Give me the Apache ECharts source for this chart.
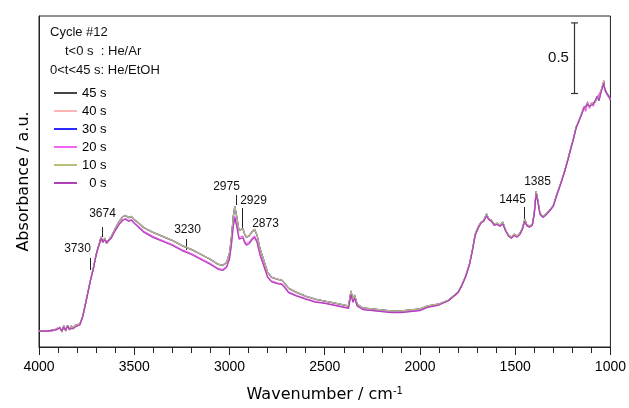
<!DOCTYPE html>
<html>
<head>
<meta charset="utf-8">
<script src="https://cdn.jsdelivr.net/npm/echarts@6/dist/echarts.min.js"></script>
<style>
  html, body { margin: 0; padding: 0; background: #fff; }
  #main { width: 629px; height: 408px; }
</style>
</head>
<body>
<div id="main"></div>
<script>
// wavenumber grid (cm-1)
var wavenumbers = [
  4000,3960,3930,3910,3900,3890,3880,3870,3860,3850,
  3840,3830,3820,3810,3800,3785,3770,3750,3730,3715,
  3700,3690,3680,3674,3665,3655,3645,3635,3620,3600,
  3580,3560,3545,3530,3515,3500,3480,3450,3400,3350,
  3300,3250,3200,3150,3100,3060,3035,3015,3000,2990,
  2980,2972,2962,2950,2940,2930,2920,2910,2895,2880,
  2868,2855,2840,2820,2800,2780,2750,2725,2710,2690,
  2650,2600,2550,2500,2450,2400,2375,2362,2352,2343,
  2330,2300,2250,2200,2150,2100,2050,2000,1960,1900,
  1850,1800,1780,1760,1740,1725,1710,1695,1680,1665,
  1650,1640,1625,1610,1595,1580,1565,1550,1535,1520,
  1505,1490,1475,1462,1450,1440,1425,1410,1400,1390,
  1380,1370,1355,1340,1320,1300,1280,1260,1240,1220,
  1205,1195,1180,1165,1150,1140,1130,1120,1110,1100,
  1090,1080,1070,1060,1050,1040,1035,1030,1020,1010,
  1000
];

// 45 s / 40 s
var absHigh = [
  0.113,0.113,0.116,0.127,0.113,0.141,0.106,0.148,0.113,0.155,
  0.120,0.148,0.127,0.155,0.141,0.162,0.218,0.345,0.472,0.556,
  0.655,0.704,0.746,0.782,0.739,0.768,0.732,0.754,0.782,0.838,
  0.887,0.923,0.930,0.915,0.923,0.901,0.880,0.845,0.810,0.782,
  0.754,0.718,0.690,0.655,0.620,0.585,0.577,0.599,0.662,0.768,
  0.923,0.993,0.923,0.824,0.817,0.838,0.796,0.775,0.789,0.817,
  0.831,0.789,0.697,0.613,0.528,0.493,0.479,0.472,0.451,0.415,
  0.387,0.359,0.338,0.324,0.310,0.296,0.289,0.394,0.331,0.366,
  0.303,0.275,0.268,0.261,0.254,0.254,0.261,0.268,0.289,0.303,
  0.331,0.387,0.437,0.500,0.585,0.683,0.796,0.845,0.880,0.894,
  0.937,0.908,0.894,0.866,0.873,0.859,0.880,0.824,0.789,0.775,
  0.796,0.782,0.803,0.838,0.901,0.866,0.852,0.866,0.944,1.099,
  1.028,0.944,0.923,0.937,0.965,1.000,1.085,1.162,1.246,1.345,
  1.423,1.472,1.556,1.606,1.655,1.697,1.676,1.732,1.697,1.725,
  1.711,1.739,1.768,1.754,1.810,1.852,1.887,1.824,1.803,1.775,
  1.754
];

// 30 s / 10 s
var absHighB = [
  0.116,0.110,0.120,0.123,0.118,0.136,0.110,0.152,0.118,0.150,
  0.124,0.152,0.130,0.150,0.146,0.165,0.220,0.347,0.474,0.558,
  0.657,0.706,0.750,0.778,0.742,0.772,0.736,0.758,0.785,0.840,
  0.889,0.925,0.933,0.918,0.925,0.903,0.882,0.847,0.812,0.784,
  0.756,0.720,0.692,0.657,0.622,0.587,0.579,0.601,0.665,0.772,
  0.928,0.998,0.926,0.826,0.820,0.842,0.799,0.778,0.792,0.820,
  0.834,0.792,0.700,0.616,0.531,0.496,0.482,0.474,0.453,0.417,
  0.389,0.361,0.340,0.326,0.312,0.298,0.291,0.398,0.334,0.369,
  0.305,0.277,0.270,0.263,0.256,0.256,0.263,0.270,0.291,0.305,
  0.333,0.389,0.440,0.503,0.588,0.686,0.800,0.850,0.884,0.898,
  0.945,0.912,0.898,0.870,0.878,0.862,0.886,0.828,0.793,0.779,
  0.800,0.786,0.808,0.843,0.908,0.870,0.856,0.870,0.950,1.105,
  1.032,0.948,0.926,0.940,0.968,1.004,1.088,1.165,1.249,1.348,
  1.425,1.468,1.560,1.600,1.660,1.690,1.685,1.725,1.705,1.720,
  1.718,1.732,1.775,1.748,1.805,1.860,1.880,1.830,1.798,1.780,
  1.758
];

// 20 s
var absMid = [
  0.113,0.115,0.113,0.130,0.116,0.138,0.110,0.144,0.116,0.150,
  0.124,0.145,0.130,0.150,0.145,0.160,0.216,0.342,0.470,0.554,
  0.652,0.702,0.744,0.776,0.742,0.764,0.736,0.752,0.774,0.826,
  0.871,0.903,0.910,0.895,0.903,0.881,0.858,0.819,0.782,0.754,
  0.726,0.690,0.662,0.627,0.592,0.557,0.549,0.571,0.630,0.728,
  0.867,0.929,0.867,0.776,0.769,0.786,0.748,0.731,0.745,0.773,
  0.787,0.749,0.661,0.581,0.500,0.469,0.455,0.448,0.427,0.391,
  0.367,0.343,0.322,0.312,0.298,0.284,0.277,0.378,0.319,0.350,
  0.293,0.267,0.260,0.253,0.246,0.246,0.253,0.260,0.283,0.299,
  0.330,0.386,0.436,0.499,0.584,0.682,0.793,0.843,0.878,0.892,
  0.934,0.906,0.892,0.864,0.870,0.857,0.876,0.822,0.787,0.772,
  0.793,0.780,0.800,0.835,0.895,0.863,0.850,0.864,0.941,1.092,
  1.024,0.942,0.920,0.935,0.963,0.998,1.082,1.160,1.244,1.342,
  1.421,1.470,1.553,1.604,1.652,1.705,1.670,1.740,1.690,1.730,
  1.705,1.745,1.760,1.760,1.815,1.858,1.880,1.820,1.810,1.770,
  1.752
];

// 0 s
var absLow = [
  0.113,0.113,0.120,0.122,0.118,0.134,0.113,0.141,0.120,0.148,
  0.127,0.141,0.134,0.148,0.148,0.158,0.215,0.340,0.468,0.552,
  0.650,0.700,0.742,0.770,0.745,0.760,0.740,0.750,0.772,0.823,
  0.867,0.898,0.905,0.890,0.898,0.876,0.852,0.813,0.775,0.747,
  0.719,0.683,0.655,0.620,0.585,0.550,0.542,0.564,0.622,0.718,
  0.853,0.913,0.853,0.764,0.757,0.773,0.736,0.720,0.734,0.762,
  0.776,0.739,0.652,0.573,0.493,0.463,0.449,0.442,0.421,0.385,
  0.362,0.339,0.318,0.309,0.295,0.281,0.274,0.372,0.316,0.345,
  0.291,0.265,0.258,0.251,0.244,0.244,0.251,0.258,0.281,0.297,
  0.328,0.384,0.435,0.498,0.583,0.680,0.790,0.840,0.876,0.890,
  0.930,0.903,0.890,0.862,0.868,0.855,0.872,0.820,0.785,0.770,
  0.790,0.778,0.798,0.832,0.890,0.860,0.848,0.862,0.938,1.085,
  1.020,0.940,0.918,0.932,0.962,0.996,1.080,1.158,1.243,1.340,
  1.420,1.468,1.550,1.602,1.650,1.690,1.680,1.720,1.705,1.715,
  1.720,1.730,1.775,1.745,1.800,1.845,1.870,1.830,1.795,1.780,
  1.750
];

var seriesNames = ['45 s', '40 s', '30 s', '20 s', '10 s', '0 s'];
var seriesValues = [absHigh, absHigh, absHighB, absMid, absHighB, absLow];
var seriesColors = ['#444444', '#ffb4b4', '#2b2bff', '#f064f0', '#bdbd7a', '#b040b8'];

// peak labels and the wavenumber each one points at
var peakLabels = ['3730', '3674', '3230', '2975', '2929', '2873', '1445', '1385'];
var peakWn = [3730, 3670, 3230, 2965, 2932, 2873, 1452, 1385];

var chart = echarts.init(document.getElementById('main'));

var series = seriesNames.map(function (name, k) {
	return {
		name: name,
		type: 'line',
		showSymbol: false,
		symbol: 'none',
		silent: true,
		lineStyle: { width: 1.2, color: seriesColors[k] },
		itemStyle: { color: seriesColors[k] },
		data: wavenumbers.map(function (w, i) { return [w, seriesValues[k][i]]; })
	};
});

chart.setOption({
	animation: false,
	textStyle: { fontFamily: 'Liberation Sans, Arial, sans-serif', color: '#000' },
	grid: {
		left: 39, right: 17, top: 16, bottom: 59,
		show: true, borderColor: '#222', borderWidth: 1, backgroundColor: 'transparent'
	},
	legend: {
		orient: 'vertical',
		left: 49, top: 81,
		icon: 'rect',
		itemWidth: 23, itemHeight: 2,
		itemGap: 4,
		data: seriesNames,
		textStyle: { fontSize: 13, lineHeight: 14, color: '#000' },
		formatter: function (name) { return name.length < 4 ? '  ' + name : name; }
	},
	xAxis: {
		type: 'value',
		min: 1000, max: 4000, interval: 500,
		inverse: true,
		name: 'Wavenumber / cm{sup|-1}',
		nameLocation: 'middle',
		nameGap: 39,
		nameTextStyle: {
			fontFamily: 'DejaVu Sans', fontSize: 16, color: '#000',
			rich: { sup: { fontFamily: 'DejaVu Sans', fontSize: 10, verticalAlign: 'top', padding: [0, 0, 8, 0], color: '#000' } }
		},
		axisLine: { show: true, lineStyle: { color: '#222', width: 1 } },
		axisTick: { show: true, inside: false, length: 8, lineStyle: { color: '#222' } },
		minorTick: { show: true, splitNumber: 5, length: 6, lineStyle: { color: '#222' } },
		axisLabel: { fontSize: 14, color: '#000', margin: 13, formatter: function (v) { return String(v); } },
		splitLine: { show: false }
	},
	yAxis: {
		type: 'value',
		min: 0, max: 2.345,
		name: 'Absorbance / a.u.',
		nameLocation: 'middle',
		nameRotate: 90,
		nameGap: 7,
		nameTextStyle: { fontFamily: 'DejaVu Sans', fontSize: 16, color: '#000' },
		axisLine: { show: true, lineStyle: { color: '#222' } },
		axisTick: { show: false },
		axisLabel: { show: false },
		splitLine: { show: false }
	},
	series: series
});

// annotations placed from data coordinates
var px = function (w, a) { return chart.convertToPixel({ gridIndex: 0 }, [w, a]); };
var labelStyle = { fontSize: 12, fontFamily: 'Liberation Sans, Arial', fill: '#111', align: 'center', verticalAlign: 'middle' };
// [dx of label, label y, line top, line bottom] in pixels
var peakLayout = [
	[-13, 249, 258, 270],
	[0, 214, 227, 237],
	[1, 230, 239, 250],
	[-10, 187, 195, 205],
	[11, 201, 208, 230],
	[11, 224, null, null],
	[-12, 200, 207, 220],
	[0, 182, null, null]
];

var elements = [];
peakLabels.forEach(function (t, i) {
	var x = Math.round(px(peakWn[i], 0)[0]) + 0.5;
	var l = peakLayout[i];
	elements.push({ type: 'text', x: x + l[0], y: l[1], style: Object.assign({ text: t }, labelStyle), silent: true });
	if (l[2] !== null) {
		elements.push({ type: 'line', shape: { x1: x, y1: l[2], x2: x, y2: l[3] }, style: { stroke: '#222', lineWidth: 1 }, silent: true });
	}
});

// 0.5 absorbance scale bar
var scaleWn = 1190, scaleBottom = 1.796, scaleSize = 0.5;
var sb0 = px(scaleWn, scaleBottom), sb1 = px(scaleWn, scaleBottom + scaleSize);
var bx = Math.round(sb0[0]) + 0.5;
elements.push({ type: 'line', shape: { x1: bx, y1: sb0[1], x2: bx, y2: sb1[1] }, style: { stroke: '#333', lineWidth: 1.2 }, silent: true });
elements.push({ type: 'line', shape: { x1: bx - 3.5, y1: sb0[1], x2: bx + 3.5, y2: sb0[1] }, style: { stroke: '#333', lineWidth: 1.2 }, silent: true });
elements.push({ type: 'line', shape: { x1: bx - 3.5, y1: sb1[1], x2: bx + 3.5, y2: sb1[1] }, style: { stroke: '#333', lineWidth: 1.2 }, silent: true });
elements.push({ type: 'text', x: bx - 16, y: (sb0[1] + sb1[1]) / 2, style: { text: '0.5', fontSize: 15, fontFamily: 'Liberation Sans, Arial', fill: '#111', align: 'center', verticalAlign: 'middle' }, silent: true });

// header text of the legend box
var header = [['Cycle #12', 50, 32], ['t<0 s  : He/Ar', 65, 51], ['0<t<45 s: He/EtOH', 50, 70]];
header.forEach(function (h) {
	elements.push({ type: 'text', x: h[1], y: h[2], style: { text: h[0], fontSize: 13, fontFamily: 'Liberation Sans, Arial', fill: '#111', verticalAlign: 'middle' }, silent: true });
});

chart.setOption({ graphic: { elements: elements } });
</script>
</body>
</html>
